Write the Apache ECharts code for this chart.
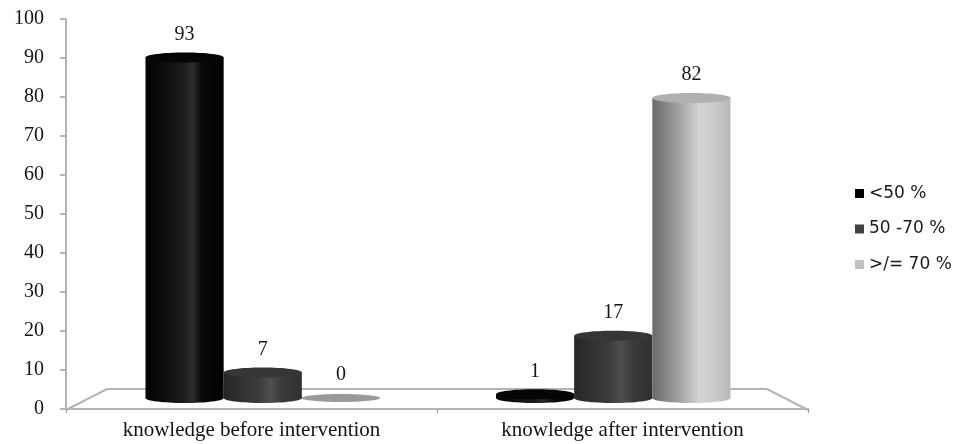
<!DOCTYPE html>
<html>
<head>
<meta charset="utf-8">
<script src="https://cdn.jsdelivr.net/npm/echarts@6/dist/echarts.min.js"></script>
<style>
  html, body { margin: 0; padding: 0; background: #fff; }
  #chart { width: 956px; height: 444px; }
</style>
</head>
<body>
<div id="chart"></div>
<script>
// Knowledge level before / after the intervention (percent of participants)
const categories = ['knowledge before intervention', 'knowledge after intervention'];
const seriesNames = ['<50 %', '50 -70 %', '>/= 70 %'];
const below50 = [93, 1];
const from50to70 = [7, 17];
const atLeast70 = [0, 82];
const yMin = 0, yMax = 100, yStep = 10;

// Shading for each cylinder family: body gradient stops, top face, legend swatch
const palettes = [
  { body: [[0, '#000'], [0.5, '#1c1c1c'], [0.6, '#2e2e2e'], [0.72, '#0a0a0a'], [1, '#000']], top: '#050505', swatch: '#000000', flat: '#000' },
  { body: [[0, '#262626'], [0.45, '#3c3c3c'], [0.6, '#4f4f4f'], [0.75, '#3a3a3a'], [1, '#303030']], top: '#363636', swatch: '#404040', flat: '#333' },
  { body: [[0, '#6a6a6a'], [0.3, '#9a9a9a'], [0.6, '#d2d2d2'], [0.8, '#cbcbcb'], [1, '#b8b8b8']], top: '#b0b0b0', swatch: '#c0c0c0', flat: '#9a9a9a' }
];

const chart = echarts.init(document.getElementById('chart'), null, { renderer: 'canvas' });

// Cylinders stand on a floor that sits slightly behind the front axis plane,
// so they use their own (hidden) grid with the same 0-100 value range.
function cylinderRenderer(slot) {
  const pal = palettes[slot];
  return function (params, api) {
    const cat = api.value(0);
    const val = api.value(1);
    const base = api.coord([cat, 0]);
    const top = api.coord([cat, val]);
    const band = api.size([1, 0])[0];
    const bw = band * 0.223;
    const cx = base[0] + (slot - 1) * bw;
    const rx = bw / 2;
    const ry = 5;
    const children = [];
    const labelY = top[1] - 23;
    if (val > 0) {
      const grad = { type: 'linear', x: 0, y: 0, x2: 1, y2: 0,
        colorStops: pal.body.map(s => ({ offset: s[0], color: s[1] })) };
      children.push({ type: 'ellipse', shape: { cx: cx, cy: base[1], rx: rx, ry: ry }, style: { fill: grad } });
      children.push({ type: 'rect', shape: { x: cx - rx, y: top[1], width: bw, height: base[1] - top[1] }, style: { fill: grad } });
      children.push({ type: 'ellipse', shape: { cx: cx, cy: top[1], rx: rx, ry: ry }, style: { fill: pal.top } });
    } else {
      children.push({ type: 'ellipse', shape: { cx: cx, cy: base[1], rx: rx, ry: ry - 1 }, style: { fill: pal.flat } });
    }
    children.push({
      type: 'text',
      style: {
        text: String(val), x: cx, y: labelY,
        align: 'center', verticalAlign: 'middle',
        font: '20px "Liberation Serif", serif', fill: '#141414'
      }
    });
    return { type: 'group', children: children };
  };
}

function seriesFor(slot, values) {
  return {
    name: seriesNames[slot],
    type: 'custom',
    xAxisIndex: 1,
    yAxisIndex: 1,
    itemStyle: { color: palettes[slot].swatch },
    renderItem: cylinderRenderer(slot),
    data: values.map((v, i) => [i, v]),
    z: 3
  };
}

const axisGray = '#b4b4b4';

chart.setOption({
  animation: false,
  backgroundColor: '#ffffff',
  grid: [
    { left: 66, right: 148, top: 19, bottom: 35 },   // front axis plane
    { left: 87.5, right: 167.5, top: 32, bottom: 46 } // cylinder floor plane
  ],
  legend: {
    orient: 'vertical',
    left: 850,
    top: 179.5,
    itemWidth: 9,
    itemHeight: 9,
    itemGap: 17.5,
    icon: 'rect',
    data: seriesNames,
    textStyle: { fontFamily: 'DejaVu Sans', fontSize: 17, color: '#1a1a1a', lineHeight: 18 },
    selectedMode: false
  },
  xAxis: [
    {
      type: 'category',
      gridIndex: 0,
      data: categories,
      axisLine: { show: true, lineStyle: { color: axisGray, width: 2 } },
      axisTick: { show: true, length: 4, lineStyle: { color: '#9a9a9a', width: 1 } },
      axisLabel: { margin: 11, fontFamily: 'Liberation Serif', fontSize: 21, color: '#141414' },
      z: 1
    },
    { type: 'category', gridIndex: 1, data: categories, show: false }
  ],
  yAxis: [
    {
      type: 'value',
      gridIndex: 0,
      min: yMin, max: yMax, interval: yStep,
      axisLine: { show: true, lineStyle: { color: axisGray, width: 2 } },
      axisTick: { show: true, length: 6, lineStyle: { color: axisGray, width: 2 } },
      splitLine: { show: false },
      axisLabel: { margin: 22, fontFamily: 'Liberation Serif', fontSize: 20, color: '#141414' }
    },
    { type: 'value', gridIndex: 1, min: yMin, max: yMax, show: false }
  ],
  series: [
    seriesFor(0, below50),
    seriesFor(1, from50to70),
    seriesFor(2, atLeast70)
  ]
});

// Floor outline: back edge and the two receding side edges, derived from both grids
const grid0 = chart.getModel().getComponent('grid', 0).coordinateSystem.getRect();
const grid1 = chart.getModel().getComponent('grid', 1).coordinateSystem.getRect();
const frontY = grid0.y + grid0.height + 1;
const backY = grid1.y + grid1.height - 9;
const depth = 41;
chart.setOption({
  graphic: [{
    type: 'polyline',
    z: 0,
    shape: { points: [
      [grid0.x, frontY],
      [grid0.x + depth, backY],
      [grid0.x + grid0.width - depth, backY],
      [grid0.x + grid0.width, frontY]
    ] },
    style: { stroke: axisGray, lineWidth: 2, fill: null }
  }]
});
</script>
</body>
</html>
